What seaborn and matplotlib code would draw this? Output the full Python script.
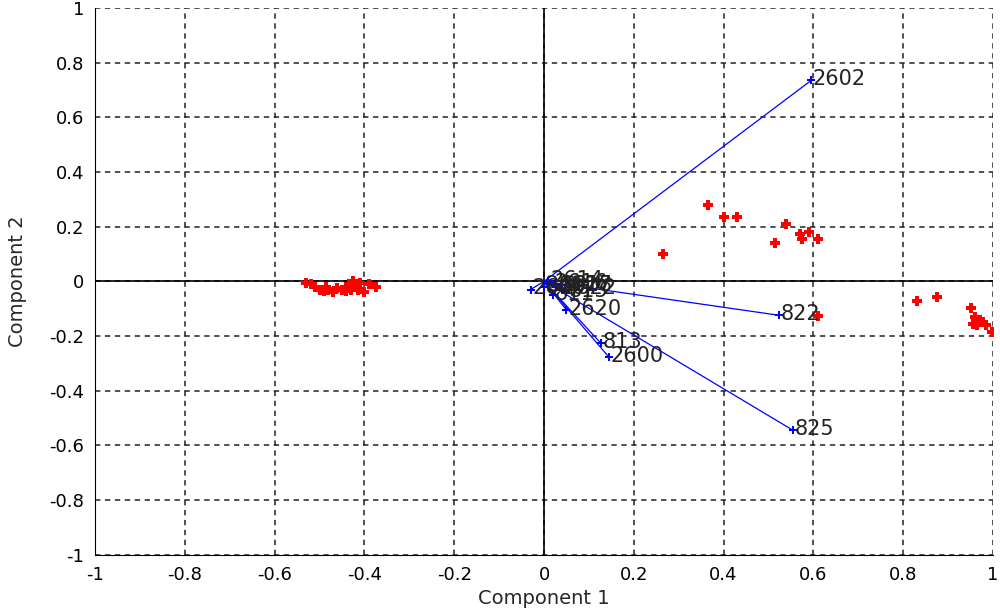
import numpy as np
import pandas as pd
import matplotlib
matplotlib.use("Agg")
import matplotlib.pyplot as plt
import seaborn as sns

# loadings (blue vectors)
var_names = ["2602", "822", "825", "813", "2600", "2620",
             "2610", "2612", "2614", "2616", "2618", "2622", "811", "815", "817"]
load_x = [0.595, 0.523, 0.555, 0.127, 0.145, 0.05,
          -0.03, 0.0, 0.01, 0.02, 0.03, 0.04, 0.02, 0.05, 0.06]
load_y = [0.735, -0.124, -0.545, -0.227, -0.278, -0.105,
          -0.03, -0.02, 0.0, -0.01, -0.02, -0.03, -0.05, -0.04, -0.02]

# scores (red points)
score_x = [-0.53, -0.52, -0.51, -0.50, -0.49, -0.485, -0.48, -0.47, -0.46, -0.45,
           -0.44, -0.435, -0.43, -0.425, -0.42, -0.415, -0.41, -0.40, -0.39, -0.375,
           0.265, 0.365, 0.40, 0.43, 0.515, 0.54, 0.57, 0.575, 0.59, 0.61, 0.61,
           0.83, 0.875, 0.95, 0.955, 0.96, 0.965, 0.97, 0.978, 0.985, 0.998]
score_y = [-0.005, -0.01, -0.02, -0.03, -0.035, -0.02, -0.03, -0.04, -0.025, -0.03,
           -0.035, -0.01, -0.03, 0.0, -0.02, -0.03, -0.005, -0.04, -0.01, -0.02,
           0.10, 0.28, 0.235, 0.235, 0.14, 0.21, 0.175, 0.155, 0.18, 0.155, -0.125,
           -0.07, -0.057, -0.098, -0.155, -0.13, -0.16, -0.14, -0.15, -0.16, -0.185]

scores = pd.DataFrame({"Component 1": score_x, "Component 2": score_y})
loads = pd.DataFrame({"x": load_x, "y": load_y, "name": var_names})

sns.set_style("white")
plt.rcParams["font.family"] = ["DejaVu Sans"]

fig = plt.figure(figsize=(10, 6.13), dpi=100)
ax = fig.add_axes([0.095, 0.095, 0.898, 0.892])

ticks = np.round(np.arange(-1, 1.01, 0.2), 1)
for t in ticks:
    ax.axvline(t, color="#222222", lw=1.1, ls=(0, (3.5, 3)), zorder=0)
    ax.axhline(t, color="#222222", lw=1.1, ls=(0, (3.5, 3)), zorder=0)
ax.axhline(0, color="black", lw=1.2, zorder=1)
ax.axvline(0, color="black", lw=1.2, zorder=1)

for x, y in zip(load_x, load_y):
    ax.plot([0, x], [0, y], color="blue", lw=0.9, zorder=2)

sns.scatterplot(data=scores, x="Component 1", y="Component 2", ax=ax,
                color="red", marker="P", s=50, linewidth=0, zorder=3)
sns.scatterplot(data=loads, x="x", y="y", ax=ax,
                color="blue", marker="P", s=40, linewidth=0, zorder=4)

for x, y, n in zip(load_x, load_y, var_names):
    ax.text(x + 0.004, y + 0.005, n, fontsize=15, color="#222222", va="center", ha="left", zorder=5)

ax.set_xlim(-1, 1)
ax.set_ylim(-1, 1)
ax.set_xticks(ticks)
ax.set_yticks(ticks)
fmt = lambda v: "0" if v == 0 else ("%g" % v)
ax.set_xticklabels([fmt(v) for v in ticks])
ax.set_yticklabels([fmt(v) for v in ticks])
ax.tick_params(direction="in", length=6, labelsize=13, colors="black", pad=8)
ax.spines["top"].set_visible(False)
ax.spines["right"].set_visible(False)
ax.spines["left"].set_color("black")
ax.spines["bottom"].set_color("black")
ax.set_xlabel("Component 1", fontsize=14, labelpad=4)
ax.set_ylabel("Component 2", fontsize=14, labelpad=16)

fig.savefig("out.png", dpi=100)
